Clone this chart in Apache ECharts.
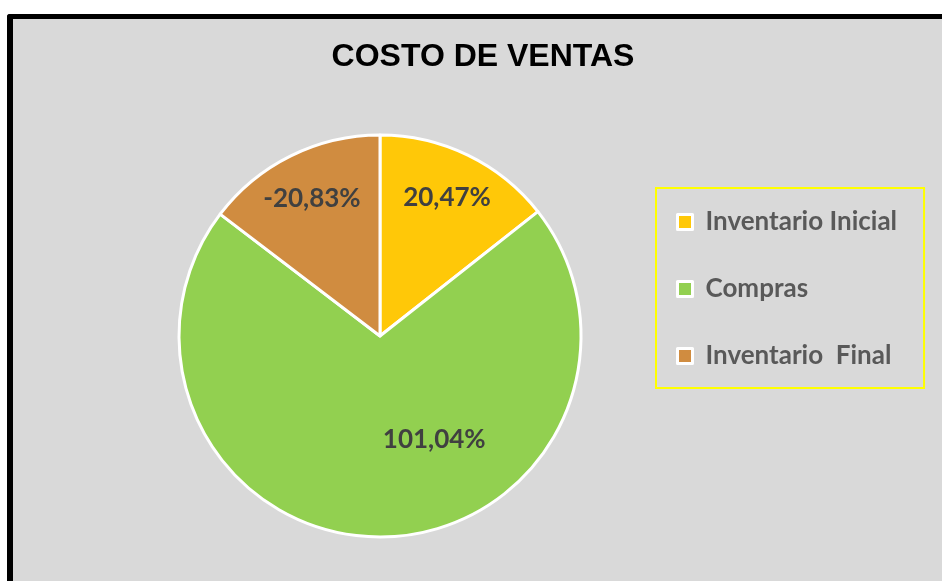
<!DOCTYPE html>
<html>
<head>
<meta charset="utf-8">
<script src="https://cdn.jsdelivr.net/npm/echarts@6/dist/echarts.min.js"></script>
<style>
  html, body { margin: 0; padding: 0; background: #fff; overflow: hidden; }
  #frame {
    position: absolute; left: 7px; top: 14px;
    width: 935px; height: 567px;
    border-left: 6px solid #000; border-top: 5px solid #000;
    border-top-left-radius: 3px;
    background: #d9d9d9;
  }
  #chart-container { width: 929px; height: 562px; }
</style>
</head>
<body>
<div id="frame"><div id="chart-container"></div></div>
<script>
const categories = ["Inventario Inicial", "Compras", "Inventario  Final"];
const percents = [20.47, 101.04, -20.83];
const colors = ["#FFC808", "#92D050", "#D08C40"];

// Excel draws the slice size from the absolute value, label keeps the sign
const pieData = categories.map((name, i) => ({
  name: name,
  value: Math.abs(percents[i]),
  signed: percents[i],
  itemStyle: { color: colors[i] },
}));

const fmt = (v) => v.toFixed(2).replace(".", ",") + "%";

const dom = document.getElementById("chart-container");
const myChart = echarts.init(dom, null, { renderer: "canvas" });

const option = {
  backgroundColor: "#d9d9d9",
  animation: false,
  title: {
    text: "COSTO DE VENTAS",
    left: 465,
    textAlign: "center",
    top: 17,
    textStyle: {
      fontFamily: "Liberation Sans",
      fontWeight: "bold",
      fontSize: 32,
      color: "#000",
    },
  },
  legend: {
    orient: "vertical",
    left: 643,
    top: 169,
    data: categories,
    backgroundColor: "#d9d9d9",
    borderColor: "#ffff00",
    borderWidth: 2,
    padding: [19, 27, 17, 20],
    itemGap: 37,
    itemWidth: 15,
    itemHeight: 15,
    icon: "rect",
    itemStyle: { borderColor: "#fff", borderWidth: 3 },
    textStyle: {
      fontFamily: "Lato",
      fontWeight: "bold",
      fontSize: 26,
      lineHeight: 30,
      color: "#595959",
      padding: [0, 0, 0, 8],
    },
  },
  series: [
    {
      name: "costo",
      type: "pie",
      center: [367, 317],
      radius: [0, 201],
      startAngle: 90,
      clockwise: true,
      silent: true,
      itemStyle: { borderColor: "#fff", borderWidth: 3 },
      label: { show: false },
      labelLine: { show: false },
      data: pieData,
    },
    {
      name: "etiquetas",
      type: "pie",
      center: [367, 317],
      radius: [100, 201],
      startAngle: 90,
      clockwise: true,
      silent: true,
      itemStyle: { color: "rgba(0,0,0,0)" },
      label: {
        show: true,
        position: "inside",
        formatter: (p) => fmt(p.data.signed),
        fontFamily: "Lato",
        fontWeight: "bold",
        fontSize: 26,
        color: "#404040",
      },
      labelLine: { show: false },
      labelLayout: (p) => (p.dataIndex === 1 ? { dx: 53, dy: -50 } : {}),
      data: pieData.map((d) => ({ name: d.name, value: d.value, signed: d.signed })),
    },
  ],
};

myChart.setOption(option);
window.addEventListener("resize", myChart.resize);
</script>
</body>
</html>
